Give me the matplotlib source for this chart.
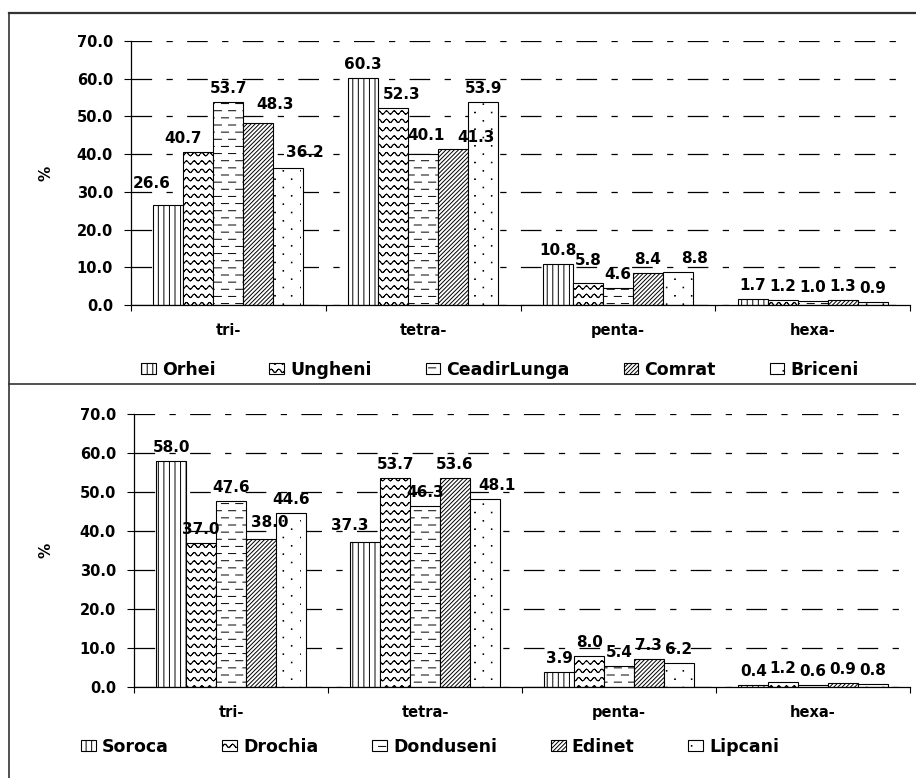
import numpy as np
import matplotlib
matplotlib.use('Agg')
import matplotlib.pyplot as plt
import matplotlib.hatch as mhatch
from matplotlib.path import Path
from matplotlib.lines import Line2D
from matplotlib.ticker import FormatStrFormatter

# --- data -------------------------------------------------------------
categories = ['tri-', 'tetra-', 'penta-', 'hexa-']

top_towns = ['Orhei', 'Ungheni', 'CeadirLunga', 'Comrat', 'Briceni']
orhei = [26.6, 60.3, 10.8, 1.7]
ungheni = [40.7, 52.3, 5.8, 1.2]
ceadirlunga = [53.7, 40.1, 4.6, 1.0]
comrat = [48.3, 41.3, 8.4, 1.3]
briceni = [36.2, 53.9, 8.8, 0.9]

bottom_towns = ['Soroca', 'Drochia', 'Donduseni', 'Edinet', 'Lipcani']
soroca = [58.0, 37.3, 3.9, 0.4]
drochia = [37.0, 53.7, 8.0, 1.2]
donduseni = [47.6, 46.3, 5.4, 0.6]
edinet = [38.0, 53.6, 7.3, 0.9]
lipcani = [44.6, 48.1, 6.2, 0.8]

# labels that were pushed aside so they do not collide (pixels)
top_nudge = {('Orhei', 0): (-17, 8), ('Ungheni', 0): (-15, 0),
             ('Comrat', 0): (17, 5), ('Briceni', 0): (17, 2),
             ('Ungheni', 1): (8, 0), ('CeadirLunga', 1): (3, 5),
             ('Comrat', 1): (23, -2), ('Ungheni', 2): (0, 9),
             ('Briceni', 2): (17, 0)}
bottom_nudge = {('Edinet', 0): (9, 3), ('Soroca', 1): (-15, 3),
                ('Lipcani', 1): (12, 0)}


# --- extra hatch patterns: waves '~', dashes '=', sparse dots ':' ------
class WaveHatch(mhatch.HatchPatternBase):
    def __init__(self, hatch, density):
        self.num_rows = int(hatch.count('~') * density)
        self.num_waves = 13
        self.num_seg = self.num_waves * 8
        self.num_vertices = self.num_rows * self.num_seg * 2

    def set_vertices_and_codes(self, vertices, codes):
        xs = np.linspace(0.0, 1.0, self.num_seg + 1)
        amp = 0.2 / self.num_rows
        n = 0
        for k in range(self.num_rows):
            ys = (k + 0.5) / self.num_rows + amp * np.sin(2 * np.pi * self.num_waves * xs)
            for i in range(self.num_seg):
                vertices[n] = xs[i], ys[i]
                vertices[n + 1] = xs[i + 1], ys[i + 1]
                codes[n] = Path.MOVETO
                codes[n + 1] = Path.LINETO
                n += 2


class DashHatch(mhatch.HatchPatternBase):
    def __init__(self, hatch, density):
        self.num_rows = int(hatch.count('=') * 14)
        self.per_row = 7
        self.num_vertices = self.num_rows * self.per_row * 2

    def set_vertices_and_codes(self, vertices, codes):
        step = 1.0 / self.per_row
        n = 0
        for k in range(self.num_rows):
            y = (k + 0.5) / self.num_rows
            shift = 0.5 * step if k % 2 else 0.0
            for i in range(self.per_row):
                x0 = (i * step + shift) % 1.0
                vertices[n] = x0, y
                vertices[n + 1] = x0 + 0.5 * step, y
                codes[n] = Path.MOVETO
                codes[n + 1] = Path.LINETO
                n += 2


class DotHatch(mhatch.HatchPatternBase):
    def __init__(self, hatch, density):
        self.num_rows = int(hatch.count(':') * 12)
        self.per_row = 6
        self.num_vertices = self.num_rows * self.per_row * 5

    def set_vertices_and_codes(self, vertices, codes):
        step = 1.0 / self.per_row
        r = 0.003
        n = 0
        for k in range(self.num_rows):
            y = (k + 0.5) / self.num_rows
            shift = 0.5 * step if k % 2 else 0.0
            for i in range(self.per_row):
                x = ((i + 0.5) * step + shift) % 1.0
                vertices[n:n + 5] = [(x - r, y - r), (x + r, y - r),
                                     (x + r, y + r), (x - r, y + r), (x - r, y - r)]
                codes[n:n + 5] = [Path.MOVETO, Path.LINETO, Path.LINETO,
                                  Path.LINETO, Path.CLOSEPOLY]
                n += 5


mhatch._hatch_types.extend([WaveHatch, DashHatch, DotHatch])
mhatch._validate_hatch_pattern = lambda hatch: None

PATTERNS = ['|||', '~~', '=', '////////', ':']
BAR_W = 0.154

plt.rcParams['font.family'] = ['DejaVu Sans']
plt.rcParams['font.weight'] = 'bold'
plt.rcParams['hatch.linewidth'] = 0.7
plt.rcParams['hatch.color'] = 'black'

W, H = 916, 778
fig = plt.figure(figsize=(W / 100, H / 100), dpi=100)


def draw_panel(ax, towns, series, nudges, label_x):
    x = np.arange(len(categories))
    for j, (town, vals) in enumerate(zip(towns, series)):
        bars = ax.bar(x + (j - 2) * BAR_W, vals, BAR_W, color='white',
                      edgecolor='black', linewidth=0.8, hatch=PATTERNS[j],
                      label=town)
        for i, (rect, v) in enumerate(zip(bars, vals)):
            dx, dy = nudges.get((town, i), (0, 0))
            ax.annotate(f'{v:.1f}', (rect.get_x() + rect.get_width() / 2, v),
                        xytext=(dx, 9 + dy), textcoords='offset pixels',
                        ha='center', va='baseline', fontsize=11,
                        fontweight='bold')

    ax.set_xlim(-0.5, 3.5)
    ax.set_ylim(0, 70)
    ax.set_yticks(np.arange(0, 71, 10))
    ax.yaxis.set_major_formatter(FormatStrFormatter('%.1f'))
    ax.set_xticks(np.arange(-0.5, 3.6, 1.0))
    ax.set_xticklabels([])
    ax.set_xticks(x, categories, minor=True)
    ax.tick_params(axis='x', which='major', direction='out', length=4, width=0.8)
    ax.tick_params(axis='x', which='minor', length=0, pad=13, labelsize=10.5)
    ax.tick_params(axis='y', direction='out', length=5, width=0.8, pad=8,
                   labelsize=10.5)
    for s in ['top', 'right']:
        ax.spines[s].set_visible(False)
    for s in ['left', 'bottom']:
        ax.spines[s].set_linewidth(0.9)
    ax.grid(axis='y', color='black', linewidth=0.9,
            linestyle=(0, (16.5, 11.5, 5, 11.5)))
    ax.set_axisbelow(True)
    ax.set_ylabel('%', fontsize=11, fontweight='bold')
    ax.yaxis.set_label_coords(label_x, 0.5)


ax_top = fig.add_axes([131 / W, 1 - 305 / H, 779 / W, 264 / H])
draw_panel(ax_top, top_towns, [orhei, ungheni, ceadirlunga, comrat, briceni],
           top_nudge, -0.100)
ax_top.legend(loc='center', bbox_to_anchor=(500 / W, 1 - 370 / H),
              bbox_transform=fig.transFigure, ncol=5, frameon=False,
              prop={'size': 12.5, 'weight': 'bold'}, handlelength=0.85,
              handleheight=0.6, handletextpad=0.35, columnspacing=3.1)

ax_bot = fig.add_axes([134 / W, 1 - 687 / H, 776 / W, 273 / H])
draw_panel(ax_bot, bottom_towns, [soroca, drochia, donduseni, edinet, lipcani],
           bottom_nudge, -0.104)
ax_bot.legend(loc='center', bbox_to_anchor=(430 / W, 1 - 747 / H),
              bbox_transform=fig.transFigure, ncol=5, frameon=False,
              prop={'size': 12.5, 'weight': 'bold'}, handlelength=0.85,
              handleheight=0.6, handletextpad=0.35, columnspacing=3.1)

# panel frames
frame = dict(transform=fig.transFigure, color='#333333')
fig.add_artist(Line2D([9 / W, 1], [1 - 13 / H, 1 - 13 / H], lw=1.6, **frame))
fig.add_artist(Line2D([9 / W, 9 / W], [1 - 13 / H, 0], lw=1.2, **frame))
fig.add_artist(Line2D([9 / W, 1], [1 - 384 / H, 1 - 384 / H], lw=1.2, **frame))

fig.savefig('out.png', dpi=100)
